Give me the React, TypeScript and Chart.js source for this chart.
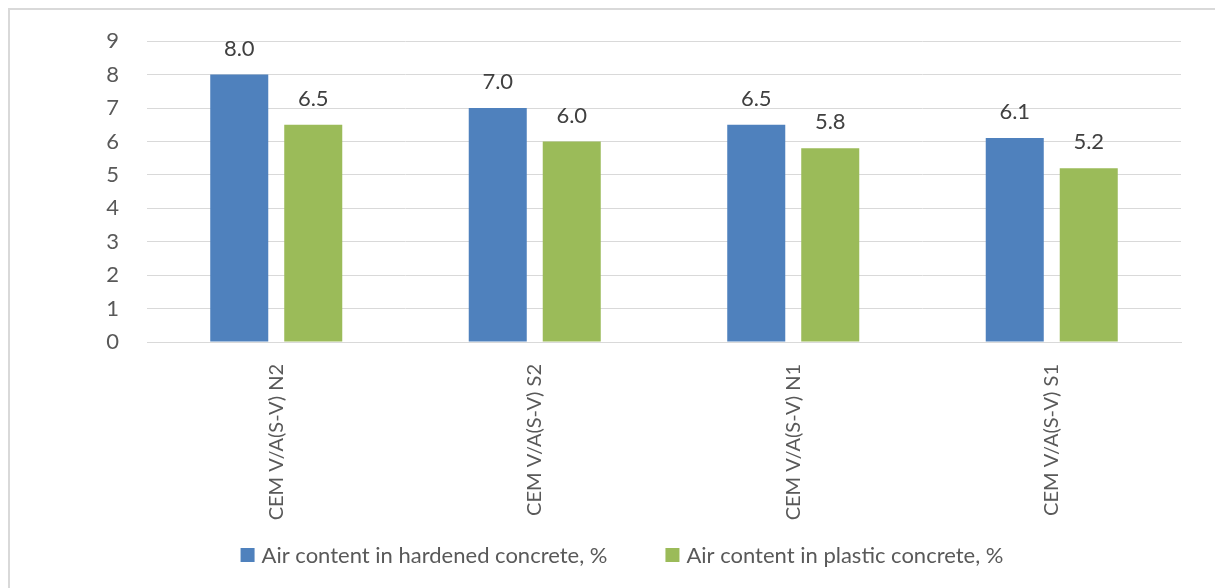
import React, { useEffect, useRef } from "react";
import { Chart, registerables } from "chart.js";

Chart.register(...registerables);

const categories = [
  "CEM V/A(S-V) N2",
  "CEM V/A(S-V) S2",
  "CEM V/A(S-V) N1",
  "CEM V/A(S-V) S1",
];
const hardenedAir = [8.0, 7.0, 6.5, 6.1];
const plasticAir = [6.5, 6.0, 5.8, 5.2];
const seriesNames = [
  "Air content in hardened concrete, %",
  "Air content in plastic concrete, %",
];
const seriesColors = ["#4f81bd", "#9bbb59"];

const FONT = "Lato, 'Noto Sans', 'Liberation Sans', sans-serif";
const TEXT = "#595959";

// Writes each bar's value just above its top edge.
const valueLabels = {
  id: "valueLabels",
  afterDatasetsDraw(chart: any) {
    const ctx = chart.ctx;
    ctx.save();
    ctx.font = `22px ${FONT}`;
    ctx.fillStyle = "#404040";
    ctx.textAlign = "center";
    ctx.textBaseline = "middle";
    chart.data.datasets.forEach((ds: any, i: number) => {
      const meta = chart.getDatasetMeta(i);
      meta.data.forEach((bar: any, j: number) => {
        const v = ds.data[j] as number;
        ctx.fillText(v.toFixed(1), bar.x, bar.y - 26);
      });
    });
    ctx.restore();
  },
};

// Legend row under the category labels: square swatch + series name.
const bottomLegend = {
  id: "bottomLegend",
  afterDraw(chart: any) {
    const ctx = chart.ctx;
    const box = 14;
    const textGap = 7;
    const itemGap = 58;
    const centerX = 622;
    const centerY = 555;
    ctx.save();
    ctx.font = `22px ${FONT}`;
    ctx.textBaseline = "middle";
    ctx.textAlign = "left";
    const items = chart.data.datasets.map((ds: any) => ({
      label: ds.label as string,
      color: ds.backgroundColor as string,
      w: ctx.measureText(ds.label).width,
    }));
    const total =
      items.reduce((s: number, it: any) => s + box + textGap + it.w, 0) +
      itemGap * (items.length - 1);
    let x = centerX - total / 2;
    items.forEach((it: any) => {
      ctx.fillStyle = it.color;
      ctx.fillRect(x, centerY - box / 2, box, box);
      x += box + textGap;
      ctx.fillStyle = TEXT;
      ctx.fillText(it.label, x, centerY + 1);
      x += it.w + itemGap;
    });
    ctx.restore();
  },
};

export default function App() {
  const ref = useRef<HTMLCanvasElement | null>(null);

  useEffect(() => {
    if (!ref.current) return;
    const chart = new Chart(ref.current, {
      type: "bar",
      data: {
        labels: categories,
        datasets: [
          { label: seriesNames[0], data: hardenedAir, backgroundColor: seriesColors[0] },
          { label: seriesNames[1], data: plasticAir, backgroundColor: seriesColors[1] },
        ],
      },
      options: {
        responsive: false,
        animation: false,
        devicePixelRatio: 1,
        layout: { padding: { left: 63, right: 34, top: 33, bottom: 46 } },
        datasets: {
          bar: { categoryPercentage: 0.5725, barPercentage: 0.784 },
        } as any,
        plugins: {
          tooltip: { enabled: false },
          legend: { display: false },
        },
        scales: {
          x: {
            grid: { display: false, drawTicks: false },
            border: { display: true, color: "#d9d9d9" },
            ticks: {
              color: TEXT,
              font: { family: FONT, size: 20 },
              minRotation: 90,
              maxRotation: 90,
              autoSkip: false,
              padding: 22,
            },
            afterFit(scale: any) {
              scale.height = 200;
            },
          },
          y: {
            min: 0,
            max: 9,
            grid: { color: "#d9d9d9", drawTicks: false },
            border: { display: false },
            ticks: {
              stepSize: 1,
              color: TEXT,
              font: { family: FONT, size: 22 },
              padding: 28,
            },
            afterFit(scale: any) {
              scale.width = 84;
            },
          },
        },
      },
      plugins: [valueLabels, bottomLegend],
    });
    return () => chart.destroy();
  }, []);

  return (
    <div style={{ position: "fixed", left: 0, top: 0, width: 1215, height: 588, background: "#fff" }}>
      <div
        style={{
          position: "absolute",
          left: 8,
          top: 8,
          width: 1207,
          height: 580,
          borderTop: "2px solid #d9d9d9",
          borderLeft: "2px solid #d9d9d9",
          boxSizing: "border-box",
        }}
      />
      <canvas ref={ref} width={1215} height={588} style={{ position: "absolute", left: 0, top: 0 }} />
    </div>
  );
}
